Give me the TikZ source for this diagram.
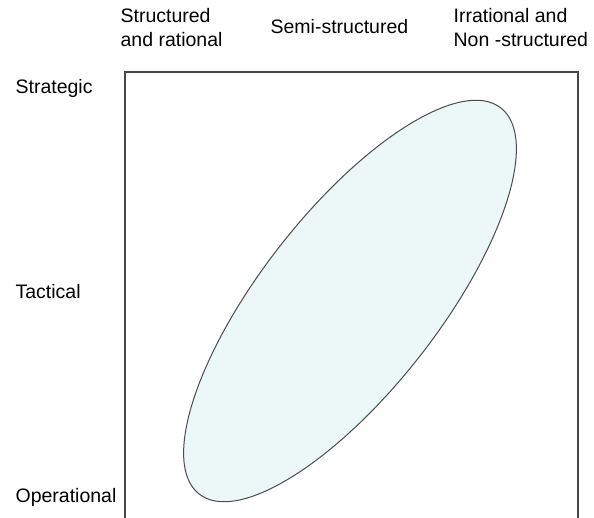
\documentclass[tikz,border=0pt]{standalone}
\usepackage{fontspec}
\setmainfont{Liberation Sans}
\usetikzlibrary{shapes.geometric,positioning}

\definecolor{zonefill}{RGB}{236,247,248}
\definecolor{framegray}{RGB}{70,70,70}

\begin{document}
\begin{tikzpicture}[
  x=1pt,y=1pt,
  head/.style={inner sep=0pt,align=left,anchor=north west,font=\fontsize{19.5}{24}\selectfont},
  level/.style={inner sep=0pt,anchor=base west,font=\fontsize{19.5}{24}\selectfont},
  zone/.style={draw=black!70,fill=zonefill,ellipse,line width=1pt,minimum width=490pt,minimum height=178pt,inner sep=0pt},
  every path/.style={line width=1.2pt}
]
  \useasboundingbox (0,0) rectangle (594,518);

  % Column headings
  \node[head] (structured) at (120,510) {Structured\\and rational};
  \node[head] (semi)       at (270,499) {Semi-structured};
  \node[head] (irrational) at (453,510) {Irrational and\\Non -structured};

  % Row headings
  \node[level] (strategic)   at (15,424) {Strategic};
  \node[level] (tactical)    at (15,219) {Tactical};
  \node[level] (operational) at (15,15)  {Operational};

  % Frame (open at the bottom)
  \coordinate (fbl) at (125,0);
  \coordinate (ftl) at (125,446);
  \coordinate (ftr) at (578,446);
  \coordinate (fbr) at (578,0);
  \draw[framegray] (fbl) -- (ftl) -- (ftr) -- (fbr);

  % Decision zone
  \node[zone,rotate=52] (region) at (350,217) {};
\end{tikzpicture}
\end{document}
